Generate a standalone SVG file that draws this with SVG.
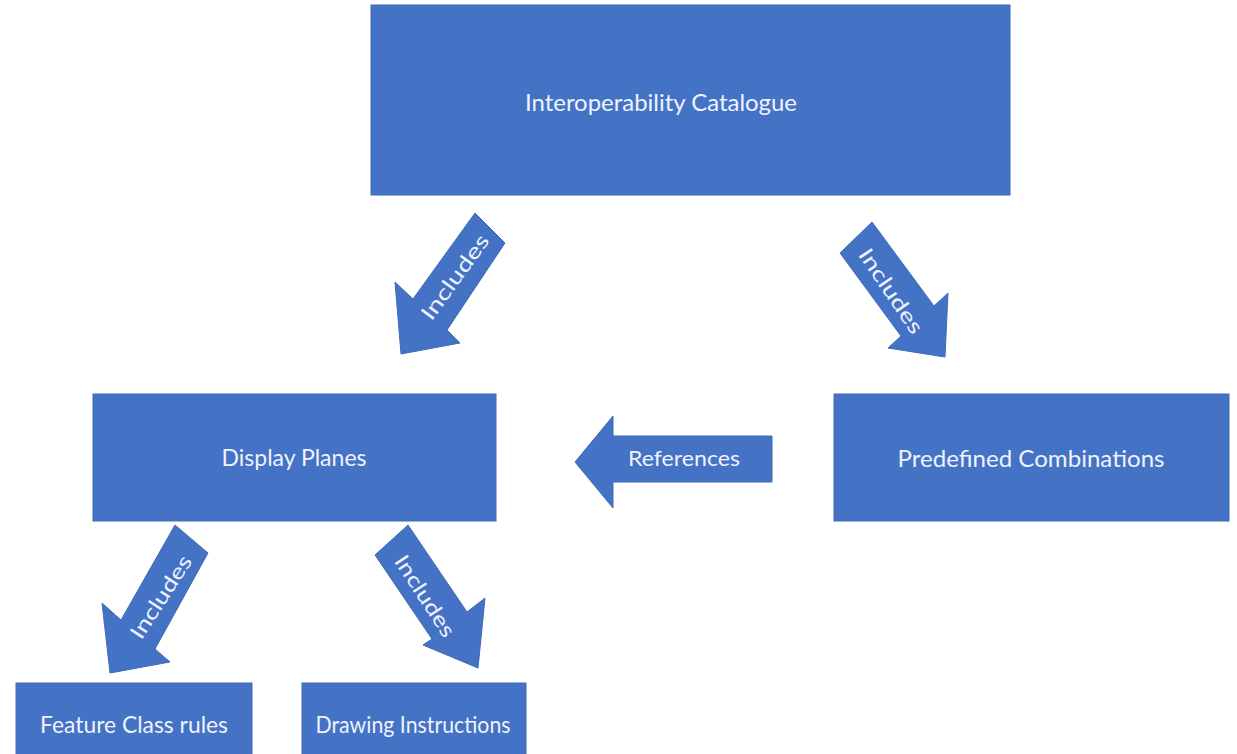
<svg xmlns="http://www.w3.org/2000/svg" width="1237" height="754" viewBox="0 0 1237 754">
<style>
.box{fill:#4472C4;stroke:#3F6BB8;stroke-width:1}
.arr{fill:#4472C4;stroke:#3F6BB8;stroke-width:1}
.t{font-family:Lato,"Open Sans","Liberation Sans",sans-serif;fill:#EEF3FF;text-anchor:middle}
.lbl{font-size:24px}
.al{font-size:21px}
</style>
<rect width="1237" height="754" fill="#FFFFFF"/>
<g id="connectors">
  <g id="arrow-ic-dp">
    <polygon class="arr" points="475,213 505,243 447,330 460,343 401,354 395,282 413,299"/>
    <text class="t al" x="455" y="277" dy="0.35em" transform="rotate(-54 455 277)" textLength="100" lengthAdjust="spacingAndGlyphs">Includes</text>
  </g>
  <g id="arrow-ic-pc">
    <polygon class="arr" points="840,253 872,222 934,306 948,293 945,357 888,348 901,336"/>
    <text class="t al" x="891" y="291" dy="0.35em" transform="rotate(56 891 291)" textLength="98" lengthAdjust="spacingAndGlyphs">Includes</text>
  </g>
  <g id="arrow-pc-dp">
    <polygon class="arr" points="772,436 772,482 613,482 613,508 575,462 613,416 613,436"/>
    <text class="t al" x="684" y="459" dy="0.35em" textLength="112" lengthAdjust="spacingAndGlyphs">References</text>
  </g>
  <g id="arrow-dp-fc">
    <polygon class="arr" points="175,525 208,553 155,649 170,662 110,673 102,603 121,620"/>
    <text class="t al" x="161" y="597" dy="0.35em" transform="rotate(-57 161 597)" textLength="95" lengthAdjust="spacingAndGlyphs">Includes</text>
  </g>
  <g id="arrow-dp-di">
    <polygon class="arr" points="375,555 408,525 467,612 485,598 478,668 423,645 432,639"/>
    <text class="t al" x="425" y="596" dy="0.35em" transform="rotate(57 425 596)" textLength="93" lengthAdjust="spacingAndGlyphs">Includes</text>
  </g>
</g>
<g id="node-interoperability-catalogue">
  <rect class="box" x="371" y="5" width="639" height="190"/>
  <text class="t lbl" x="661" y="111" textLength="272" lengthAdjust="spacingAndGlyphs">Interoperability Catalogue</text>
</g>
<g id="node-display-planes">
  <rect class="box" x="93" y="394" width="403" height="127"/>
  <text class="t lbl" x="294" y="466" textLength="145" lengthAdjust="spacingAndGlyphs">Display Planes</text>
</g>
<g id="node-predefined-combinations">
  <rect class="box" x="834" y="394" width="395" height="127"/>
  <text class="t lbl" x="1031" y="467" textLength="267" lengthAdjust="spacingAndGlyphs">Predefined Combinations</text>
</g>
<g id="node-feature-class-rules">
  <rect class="box" x="16" y="683" width="236" height="75"/>
  <text class="t lbl" x="134" y="733" textLength="188" lengthAdjust="spacingAndGlyphs">Feature Class rules</text>
</g>
<g id="node-drawing-instructions">
  <rect class="box" x="302" y="683" width="224" height="75"/>
  <text class="t lbl" x="413" y="733" textLength="195" lengthAdjust="spacingAndGlyphs">Drawing Instructions</text>
</g>
</svg>
